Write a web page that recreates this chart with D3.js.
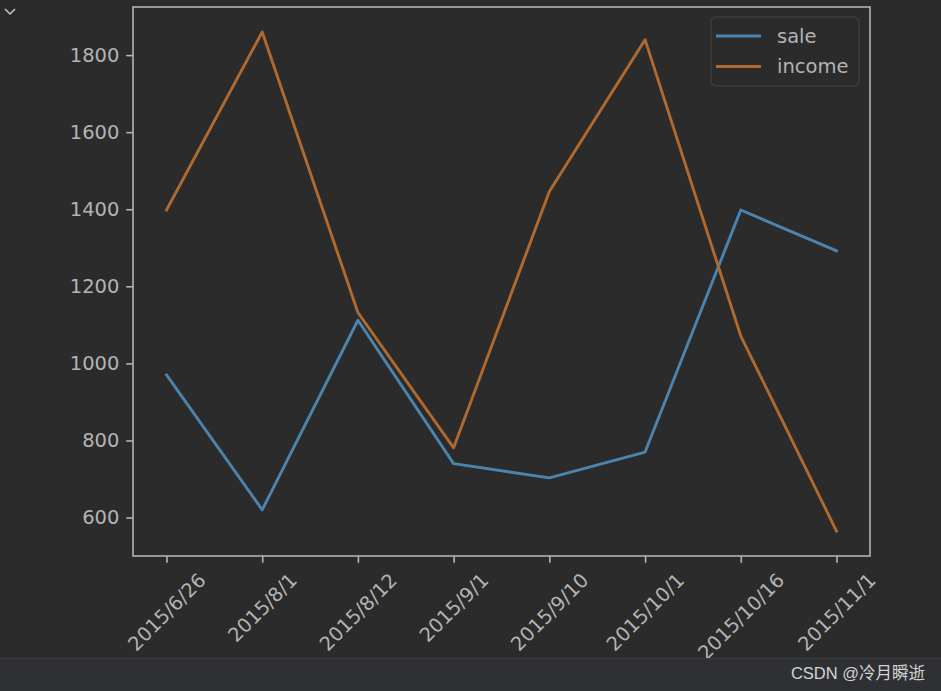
<!DOCTYPE html>
<html>
<head>
<meta charset="utf-8">
<script src="https://cdn.jsdelivr.net/npm/d3@7"></script>
<style>
  html, body { margin: 0; padding: 0; background: #2b2b2b; overflow: hidden; }
  svg { display: block; }
</style>
</head>
<body>
<svg id="chart" width="941" height="691"></svg>
<script>
const categories = ["2015/6/26", "2015/8/1", "2015/8/12", "2015/9/1", "2015/9/10", "2015/10/1", "2015/10/16", "2015/11/1"];
const sale = [970, 620, 1112, 740, 703, 770, 1398, 1292];
const income = [1398, 1860, 1132, 781, 1446, 1840, 1071, 565];
const yTicks = [600, 800, 1000, 1200, 1400, 1600, 1800];
const seriesNames = ["sale", "income"];
const seriesColors = ["#4b84ae", "#b06a2f"];

const W = 941, H = 691;
const plot = { left: 133, right: 870, top: 7, bottom: 556 };
const fontSize = 19.5;
const axisColor = "#b4b4b4";
const textColor = "#b4b4b4";
const fontFamily = "'DejaVu Sans', sans-serif";

const svg = d3.select("#chart");
svg.append("rect").attr("width", W).attr("height", H).attr("fill", "#2b2b2b");

const x = d3.scalePoint().domain(categories).range([plot.left, plot.right]).padding(0.35);
const allVals = sale.concat(income);
const vmin = d3.min(allVals), vmax = d3.max(allVals);
const m = (vmax - vmin) * 0.05;
const y = d3.scaleLinear().domain([vmin - m, vmax + m]).range([plot.bottom, plot.top]);

const series = [sale, income];
const line = d3.line().x((d, i) => x(categories[i])).y(d => y(d));
series.forEach((s, k) => {
  svg.append("path").datum(s)
    .attr("d", line)
    .attr("fill", "none")
    .attr("stroke", seriesColors[k])
    .attr("stroke-width", 2.9)
    .attr("stroke-linejoin", "round")
    .attr("stroke-linecap", "square");
});

// frame
svg.append("rect")
  .attr("x", plot.left).attr("y", plot.top)
  .attr("width", plot.right - plot.left).attr("height", plot.bottom - plot.top)
  .attr("fill", "none").attr("stroke", axisColor).attr("stroke-width", 1.6);

// y axis
const yAxis = svg.append("g")
  .attr("transform", `translate(${plot.left},0)`)
  .call(d3.axisLeft(y).tickValues(yTicks).tickSize(6.8).tickPadding(6.8).tickFormat(d3.format("d")));
yAxis.select(".domain").remove();
yAxis.selectAll(".tick line").attr("stroke", axisColor).attr("stroke-width", 1.6);
yAxis.selectAll(".tick text")
  .attr("fill", textColor).style("font-size", fontSize + "px").style("font-family", fontFamily);

// x axis
const xAxis = svg.append("g")
  .attr("transform", `translate(0,${plot.bottom})`)
  .call(d3.axisBottom(x).tickSize(6.8).tickPadding(6.8));
xAxis.select(".domain").remove();
xAxis.selectAll(".tick line").attr("stroke", axisColor).attr("stroke-width", 1.6);
xAxis.selectAll(".tick text").each(function () {
  const t = d3.select(this);
  t.attr("fill", textColor).style("font-size", fontSize + "px").style("font-family", fontFamily)
   .attr("text-anchor", "middle").attr("dy", null).attr("dominant-baseline", "central");
  const L = this.getComputedTextLength();
  const h = fontSize * 1.05;
  const bboxH = (L + h) / Math.SQRT2;
  const cy = 6.8 + 6.8 + bboxH / 2;
  t.attr("y", null).attr("transform", `translate(0,${cy}) rotate(-45)`);
});

// legend
const lg = svg.append("g");
lg.append("rect")
  .attr("x", 711).attr("y", 17).attr("width", 148).attr("height", 69)
  .attr("rx", 5).attr("fill", "#2b2b2b").attr("stroke", "#3d3d3d").attr("stroke-width", 1.6);
seriesNames.forEach((n, k) => {
  const yy = 36 + k * 30.5;
  lg.append("line").attr("x1", 716).attr("x2", 761).attr("y1", yy).attr("y2", yy)
    .attr("stroke", seriesColors[k]).attr("stroke-width", 2.9);
  lg.append("text").attr("x", 777).attr("y", yy).attr("dominant-baseline", "central")
    .attr("fill", textColor).style("font-size", fontSize + "px").style("font-family", fontFamily)
    .text(n);
});

// chevron top-left
svg.append("path").attr("d", "M5,9 L10,14 L15,9").attr("fill", "none")
  .attr("stroke", "#c8c8c8").attr("stroke-width", 1.5);

// bottom bar
svg.append("rect").attr("x", 0).attr("y", 658).attr("width", W).attr("height", H - 658).attr("fill", "#2f3033");
svg.append("line").attr("x1", 0).attr("x2", W).attr("y1", 658.5).attr("y2", 658.5).attr("stroke", "#3a3b3e");
svg.append("text").attr("x", 925).attr("y", 673).attr("text-anchor", "end").attr("dominant-baseline", "central")
  .attr("fill", "#d4d4d4").style("font-size", "16.5px").style("font-family", "'Liberation Sans', 'Noto Sans CJK SC', sans-serif")
  .text("CSDN @冷月瞬逝");
</script>
</body>
</html>
